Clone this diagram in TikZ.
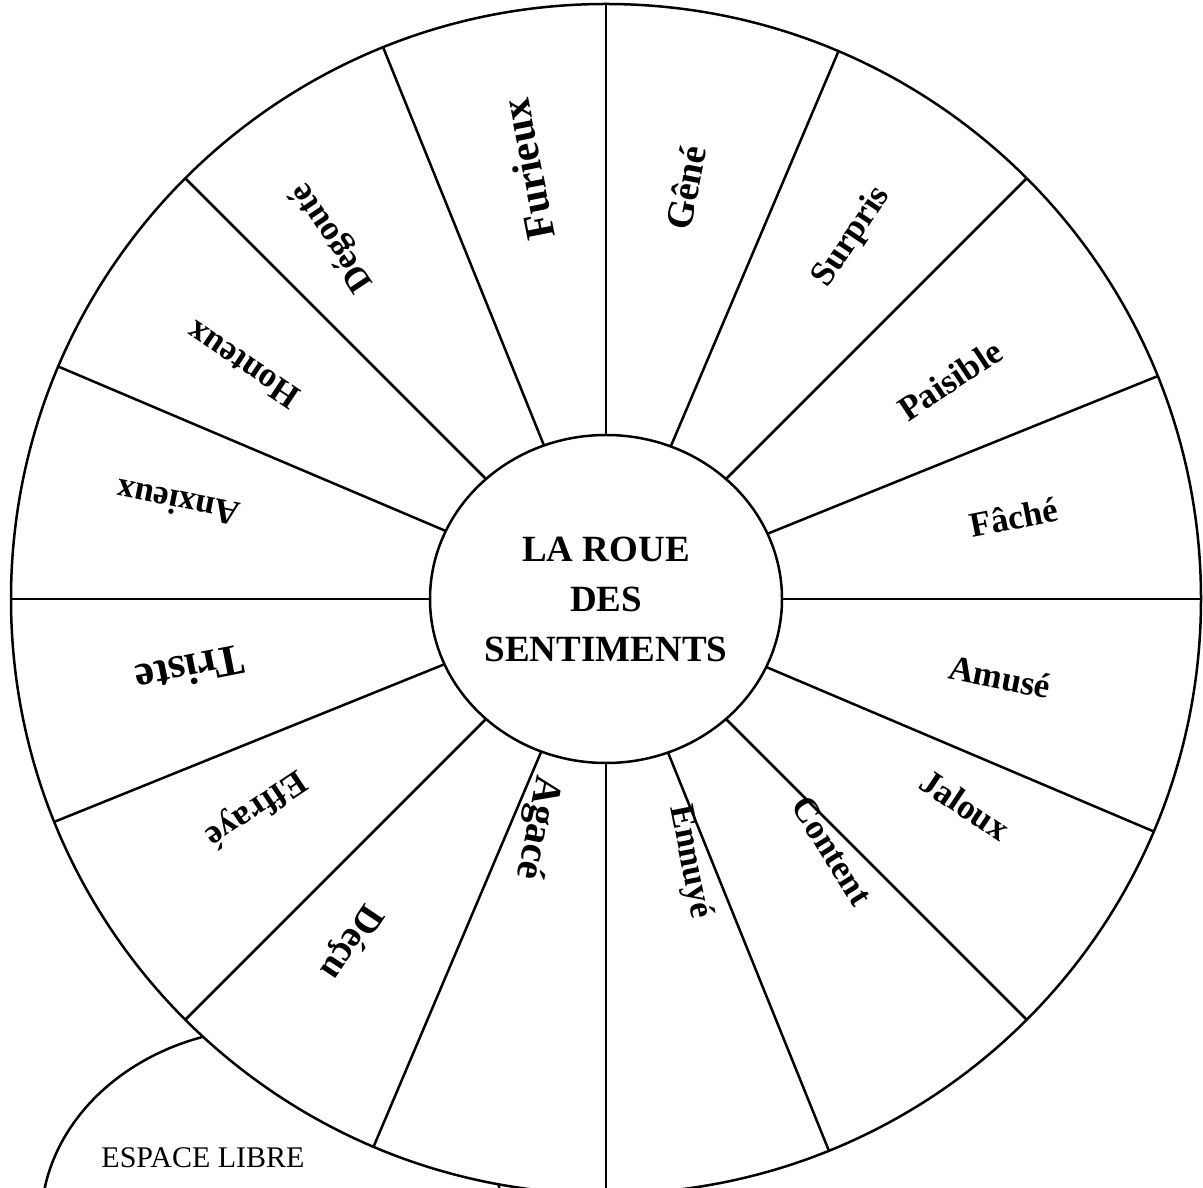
\documentclass[tikz,border=0pt]{standalone}
\usepackage{fontspec}
\setmainfont{Liberation Serif}
\usetikzlibrary{shapes.geometric,calc}
\begin{document}
\begin{tikzpicture}[x=1pt,y=1pt,
  thick line/.style={line width=2.5pt},
  lbl/.style={font=\fontsize{35}{40}\selectfont\bfseries, inner sep=0pt}]
\useasboundingbox (0,0) rectangle (1203,1187);
\clip (0,0) rectangle (1203,1187);
\coordinate (C) at (606,588);
% free space oval, partly hidden behind the wheel
\node[ellipse, draw, thick line, minimum width=462, minimum height=390, outer sep=0pt] (libre) at (272,-36) {};
\node[font=\fontsize{30}{34}\selectfont, inner sep=0pt] (libretxt) at (203,29) {ESPACE LIBRE};
% wheel
\node[circle, draw, thick line, fill=white, minimum size=1190, outer sep=0pt] (wheel) at (C) {};
\node[ellipse, draw, thick line, fill=white, minimum width=352, minimum height=328, outer sep=0pt, inner sep=0pt,
  align=center, font=\fontsize{37}{50}\selectfont\bfseries] (hub) at (C) {LA ROUE\\DES\\SENTIMENTS};
\foreach \a in {0,22.5,...,337.5} {
  \draw[thick line] (hub.\a) -- (wheel.\a);
}
% labels
\node[lbl, font=\fontsize{42}{46}\selectfont\bfseries, rotate=101.25] (l1) at (528,1017) {Furieux};
\node[lbl, font=\fontsize{38}{42}\selectfont\bfseries, rotate=78.75] (l2) at (686,999) {Gêné};
\node[lbl, rotate=56.25] (l3) at (852,950) {Surpris};
\node[lbl, rotate=33.75] (l4) at (950,807) {Paisible};
\node[lbl, rotate=11.25] (l5) at (1014,670) {Fâché};
\node[lbl, rotate=-11.25] (l6) at (1000,510) {Amusé};
\node[lbl, rotate=-33.75] (l7) at (965,382) {Jaloux};
\node[lbl, rotate=-58] (l8) at (832,336) {Content};
\node[lbl, rotate=-78.75] (l9) at (690,325) {Ennuyé};
\node[lbl, font=\fontsize{40}{44}\selectfont\bfseries, rotate=-101.25] (l10) at (537,359) {Agacé};
\node[lbl, font=\fontsize{38}{42}\selectfont\bfseries, rotate=-123.75] (l11) at (350,245) {Déçu};
\node[lbl, rotate=-146.25] (l12) at (255,379) {Effrayé};
\node[lbl, font=\fontsize{44}{48}\selectfont\bfseries, rotate=191.25] (l13) at (190,517) {Triste};
\node[lbl, rotate=168.75] (l14) at (178,684) {Anxieux};
\node[lbl, rotate=146.25] (l15) at (243,822) {Honteux};
\node[lbl, rotate=123.75] (l16) at (333,950) {Dégouté};
\end{tikzpicture}
\end{document}
